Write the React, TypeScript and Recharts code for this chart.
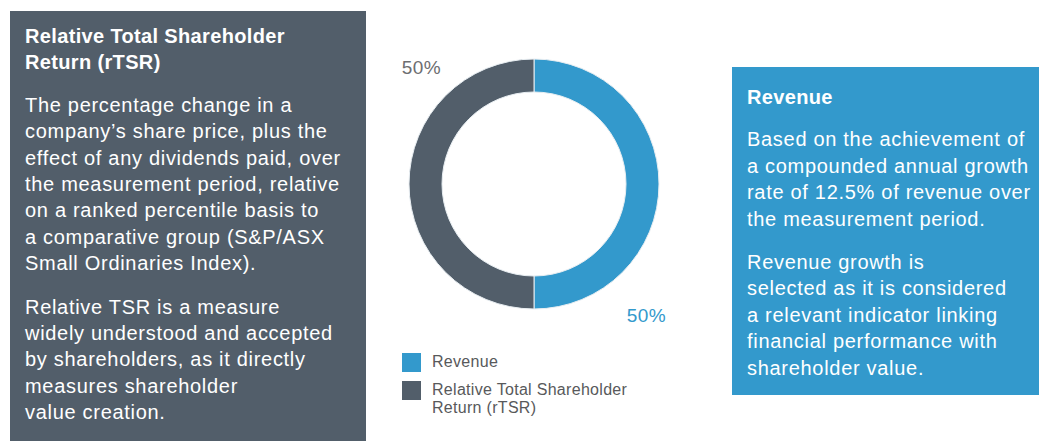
import React from "react"
import { Cell, Legend, Pie, PieChart } from "recharts"

// plan weighting
const segments = ["Revenue", "Relative Total Shareholder Return (rTSR)"]
const weights = [50, 50]

const leftTitle = ["Relative Total Shareholder", "Return (rTSR)"]
const leftPara1 = [
  "The percentage change in a",
  "company’s share price, plus the",
  "effect of any dividends paid, over",
  "the measurement period, relative",
  "on a ranked percentile basis to",
  "a comparative group (S&P/ASX",
  "Small Ordinaries Index).",
]
const leftPara2 = [
  "Relative TSR is a measure",
  "widely understood and accepted",
  "by shareholders, as it directly",
  "measures shareholder",
  "value creation.",
]
const rightTitle = ["Revenue"]
const rightPara1 = [
  "Based on the achievement of",
  "a compounded annual growth",
  "rate of 12.5% of revenue over",
  "the measurement period.",
]
const rightPara2 = [
  "Revenue growth is",
  "selected as it is considered",
  "a relevant indicator linking",
  "financial performance with",
  "shareholder value.",
]

const BLUE = "#3399cc"
const SLATE = "#525e6a"
const FONT = "'Liberation Sans', Arial, Helvetica, sans-serif"
const RADIAN = Math.PI / 180

const data = segments.map((name, i) => ({ name, value: weights[i] }))
const colors = [BLUE, SLATE]

function Lines({ lines, style }: { lines: string[]; style?: React.CSSProperties }) {
  return (
    <div style={style}>
      {lines.map((l, i) => (
        <div key={i} style={{ whiteSpace: "nowrap" }}>{l}</div>
      ))}
    </div>
  )
}

function InfoBox({
  title,
  paras,
  style,
}: {
  title: string[]
  paras: string[][]
  style: React.CSSProperties
}) {
  return (
    <div
      style={{
        position: "absolute",
        boxSizing: "border-box",
        color: "#fff",
        fontFamily: FONT,
        fontSize: 20,
        letterSpacing: 0.7,
        lineHeight: "26.4px",
        ...style,
      }}
    >
      <Lines
        lines={title}
        style={{ fontWeight: 700, fontSize: 20, letterSpacing: 0.35, marginBottom: 16 }}
      />
      {paras.map((p, i) => (
        <Lines key={i} lines={p} style={{ marginBottom: 17 }} />
      ))}
    </div>
  )
}

const renderLabel = (props: any) => {
  const { cx, cy, midAngle, outerRadius, percent } = props
  const s = Math.cos(-midAngle * RADIAN) >= 0 ? 1 : -1
  return (
    <text
      x={cx + s * outerRadius * 0.9}
      y={cy + s * outerRadius * (s > 0 ? 1.055 : 0.936)}
      textAnchor="middle"
      dominantBaseline="central"
      fill={s > 0 ? BLUE : "#6d6e71"}
      fontSize={19}
      letterSpacing={0.5}
      fontFamily={FONT}
    >
      {`${Math.round(percent * 100)}%`}
    </text>
  )
}

const renderLegend = (props: any) => {
  const payload = [...(props.payload || [])].sort(
    (a: any, b: any) => segments.indexOf(a.value) - segments.indexOf(b.value)
  )
  return (
    <div
      style={{
        fontFamily: FONT,
        fontSize: 16,
        letterSpacing: 0.3,
        lineHeight: "18px",
        color: "#58595b",
      }}
    >
      {payload.map((entry: any, i: number) => (
        <div key={i} style={{ display: "flex", alignItems: "flex-start", marginBottom: 9 }}>
          <div style={{ width: 19, height: 19, background: entry.color, flexShrink: 0 }} />
          <div style={{ marginLeft: 11, width: 200 }}>{entry.value}</div>
        </div>
      ))}
    </div>
  )
}

export default function App() {
  return (
    <div
      style={{
        position: "fixed",
        left: 0,
        top: 0,
        width: 1039,
        height: 441,
        background: "#fff",
        overflow: "hidden",
      }}
    >
      <InfoBox
        title={leftTitle}
        paras={[leftPara1, leftPara2]}
        style={{ left: 10, top: 11, width: 356, height: 440, background: SLATE, padding: "12px 15px" }}
      />
      <InfoBox
        title={rightTitle}
        paras={[rightPara1, rightPara2]}
        style={{ left: 732, top: 67, width: 310, height: 328, background: BLUE, padding: "17px 15px" }}
      />
      <div style={{ position: "absolute", left: 380, top: 40 }}>
        <PieChart width={300} height={400}>
          <Pie
            data={data}
            dataKey="value"
            nameKey="name"
            cx={149}
            cy={139}
            innerRadius={92}
            outerRadius={125}
            startAngle={90}
            endAngle={-270}
            stroke="#e8eef2"
            strokeWidth={1}
            label={renderLabel}
            labelLine={false}
            isAnimationActive={false}
          >
            {data.map((d, i) => (
              <Cell key={d.name} fill={colors[i]} />
            ))}
          </Pie>
          <Legend
            content={renderLegend}
            wrapperStyle={{ position: "absolute", left: 22, top: 313, width: 240 }}
          />
        </PieChart>
      </div>
    </div>
  )
}
